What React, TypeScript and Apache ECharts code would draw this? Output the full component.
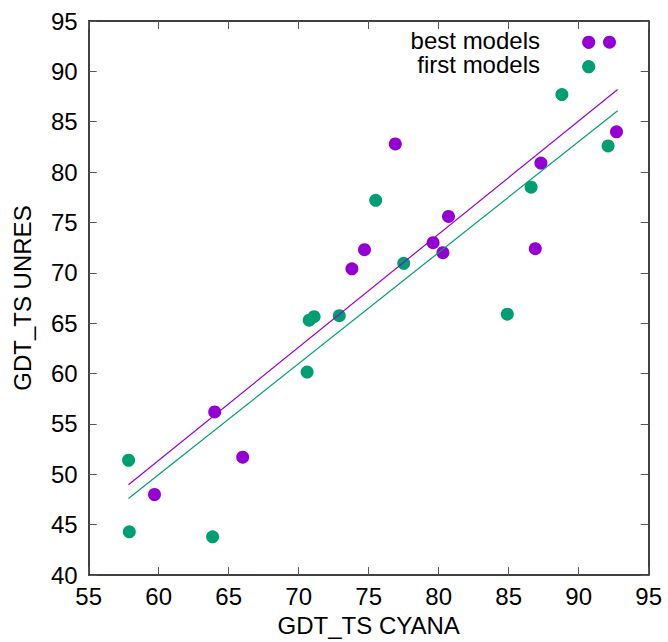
import React, { useEffect, useRef } from "react";
import * as echarts from "echarts";

// Data
const bestModels: [number, number][] = [
  [92.7, 84.0], [87.3, 80.9], [76.9, 82.8], [80.7, 75.6], [79.6, 73.0],
  [80.3, 72.0], [86.9, 72.4], [74.7, 72.3], [73.8, 70.4], [64.0, 56.2],
  [66.0, 51.7], [59.7, 48.0], [92.2, 92.9],
];
const firstModels: [number, number][] = [
  [88.8, 87.7], [92.1, 82.6], [86.6, 78.5], [75.5, 77.2], [77.5, 70.95],
  [84.9, 65.9], [72.9, 65.75], [70.75, 65.3], [71.1, 65.65], [70.6, 60.15],
  [57.85, 51.4], [57.9, 44.3], [63.85, 43.8],
];
const bestFit: [number, number][] = [[57.84, 48.97], [92.78, 88.2]];
const firstFit: [number, number][] = [[57.84, 47.6], [92.78, 86.1]];

const xTicks = { min: 55, max: 95, interval: 5 };
const yTicks = { min: 40, max: 95, interval: 5 };
const legendLabels = ["best models", "first models"];

const PURPLE = "#9400d3";
const GREEN = "#009e73";
const FONT = "Liberation Sans, Arial, Helvetica, sans-serif";

export default function App() {
  const ref = useRef<HTMLDivElement>(null);
  useEffect(() => {
    document.body.style.margin = "0";
    if (!ref.current) return;
    const chart = echarts.init(ref.current, null, { renderer: "svg" });
    const L = 88.7, R = 19.3, T = 21, B = 63.7;
    const axisLine = { show: true, lineStyle: { color: "#000", width: 1.5 } };
    const tick = { show: true, inside: true, length: 8, lineStyle: { color: "#555", width: 1 } };
    chart.setOption({
      animation: false,
      backgroundColor: "#fff",
      textStyle: { fontFamily: FONT },
      grid: { left: L, right: R, top: T, bottom: B, containLabel: false },
      xAxis: [
        {
          type: "value", position: "bottom", ...xTicks,
          name: "GDT_TS CYANA", nameLocation: "middle", nameGap: 35,
          nameTextStyle: { fontSize: 24, color: "#000", fontFamily: FONT },
          axisLine, axisTick: tick, splitLine: { show: false },
          axisLabel: { fontSize: 24, color: "#000", margin: 9, fontFamily: FONT },
        },
        {
          type: "value", position: "top", ...xTicks,
          axisLine, axisTick: tick, splitLine: { show: false },
          axisLabel: { show: false },
        },
      ],
      yAxis: [
        {
          type: "value", position: "left", ...yTicks,
          name: "GDT_TS UNRES", nameLocation: "middle", nameGap: 54, nameRotate: 90,
          nameTextStyle: { fontSize: 24, color: "#000", fontFamily: FONT },
          axisLine, axisTick: tick, splitLine: { show: false },
          axisLabel: { fontSize: 24, color: "#000", margin: 11, fontFamily: FONT },
        },
        {
          type: "value", position: "right", ...yTicks,
          axisLine, axisTick: tick, splitLine: { show: false },
          axisLabel: { show: false },
        },
      ],
      series: [
        {
          name: legendLabels[0], type: "scatter", data: bestModels,
          symbol: "circle", symbolSize: 13, itemStyle: { color: PURPLE, opacity: 1 },
        },
        {
          name: legendLabels[1], type: "scatter", data: firstModels,
          symbol: "circle", symbolSize: 13, itemStyle: { color: GREEN, opacity: 1 },
        },
        {
          type: "line", data: bestFit, showSymbol: false, symbol: "none",
          lineStyle: { color: PURPLE, width: 1.2 },
        },
        {
          type: "line", data: firstFit, showSymbol: false, symbol: "none",
          lineStyle: { color: GREEN, width: 1.2 },
        },
      ],
      graphic: [
        {
          type: "text", right: 668 - 540, top: 42.3 - 14,
          style: { text: legendLabels[0], fontSize: 24, fill: "#000", fontFamily: FONT, textAlign: "right" },
        },
        {
          type: "text", right: 668 - 540, top: 66.7 - 14,
          style: { text: legendLabels[1], fontSize: 24, fill: "#000", fontFamily: FONT, textAlign: "right" },
        },
        { type: "circle", shape: { cx: 588.7, cy: 42.3, r: 6.6 }, style: { fill: PURPLE } },
        { type: "circle", shape: { cx: 588.7, cy: 66.7, r: 6.6 }, style: { fill: GREEN } },
      ],
    });
    return () => chart.dispose();
  }, []);
  return <div ref={ref} style={{ width: 668, height: 642 }} />;
}
